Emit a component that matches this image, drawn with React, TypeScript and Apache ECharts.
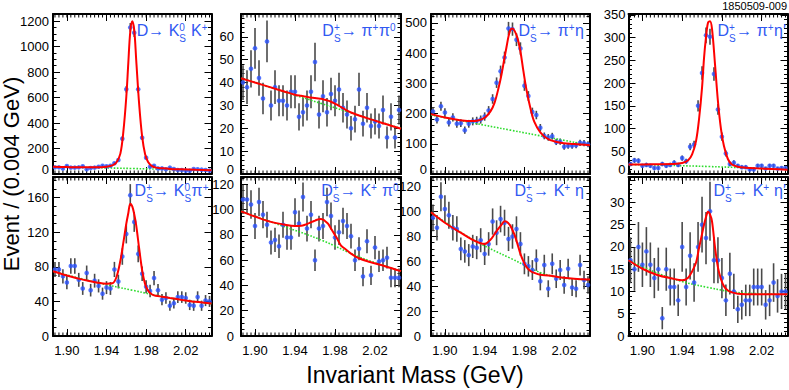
import React, { useEffect, useRef } from "react";
import * as echarts from "echarts";

// ---------- data ----------
const binCenters = [
  1.888, 1.892, 1.896, 1.9, 1.904, 1.908, 1.912, 1.916, 1.92, 1.924,
  1.928, 1.932, 1.936, 1.94, 1.944, 1.948, 1.952, 1.956, 1.96, 1.964,
  1.968, 1.972, 1.976, 1.98, 1.984, 1.988, 1.992, 1.996, 2.0, 2.004,
  2.008, 2.012, 2.016, 2.02, 2.024, 2.028, 2.032, 2.036, 2.04, 2.044,
];
const xMinorTicks = [
  1.888, 1.892, 1.896, 1.9, 1.904, 1.908, 1.912, 1.916, 1.92, 1.924,
  1.928, 1.932, 1.936, 1.94, 1.944, 1.948, 1.952, 1.956, 1.96, 1.964,
  1.968, 1.972, 1.976, 1.98, 1.984, 1.988, 1.992, 1.996, 2.0, 2.004,
  2.008, 2.012, 2.016, 2.02, 2.024, 2.028, 2.032, 2.036, 2.04, 2.044,
];
const xTickLabels = [1.9, 1.94, 1.98, 2.02];
const fitX = [
  1.886, 1.9, 1.915, 1.93, 1.94, 1.946, 1.95, 1.954, 1.957, 1.96, 1.962,
  1.964, 1.966, 1.968, 1.97, 1.973, 1.976, 1.979, 1.982, 1.986, 1.99, 1.996,
  2.004, 2.015, 2.03, 2.046,
];
const bkgX = [1.886, 1.926, 1.966, 2.006, 2.046];

// D -> Ks K+
const p1Counts = [52, 52, 44, 63, 50, 50, 52, 60, 37, 47, 50, 57, 65, 60, 65, 84, 110, 277, 664, 1150, 1108, 664, 285, 128, 57, 65, 44, 44, 37, 50, 39, 31, 31, 26, 26, 39, 37, 34, 31, 26];
const p1Fit = [57, 54, 52, 52, 57, 68, 90, 160, 330, 606, 868, 1116, 1198, 1130, 894, 545, 293, 155, 95, 62, 50, 45, 40, 37, 33, 29];
const p1Bkg = [57, 50, 43, 36, 29];
const p1YLabels = [0, 200, 400, 600, 800, 1000, 1200];

// Ds -> pi+ pi0
const p2Counts = [40, 38, 46, 55, 42, 33, 58, 30, 38, 32, 32, 30, 36, 36, 25, 27, 30, 36, 49, 26, 34, 27, 35, 32, 37, 29, 26, 20, 24, 37, 22, 29, 21, 23, 21, 28, 16, 25, 16, 28];
const p2Fit = [41.9, 40.0, 38.0, 36.0, 34.7, 34.2, 33.9, 33.6, 33.4, 33.2, 33.1, 33.0, 32.9, 32.7, 32.5, 32.1, 31.6, 31.0, 30.3, 29.3, 28.3, 26.9, 25.6, 24.0, 22.0, 19.8];
const p2Bkg = [41.9, 36.4, 30.9, 25.4, 19.9];
const p2YLabels = [0, 10, 20, 30, 40, 50, 60];

// Ds -> pi+ eta
const p3Counts = [207, 180, 224, 203, 170, 187, 166, 168, 145, 166, 174, 176, 180, 190, 210, 248, 302, 340, 385, 481, 479, 444, 415, 292, 258, 205, 195, 153, 126, 121, 125, 106, 107, 90, 93, 93, 95, 103, 102, 98];
const p3Fit = [198, 187, 178, 175, 186, 208, 236, 285, 330, 385, 420, 455, 477, 481, 474, 450, 405, 340, 280, 218, 172, 138, 115, 104, 99, 95];
const p3Bkg = [195, 170, 145, 120, 95];
const p3YLabels = [0, 100, 200, 300, 400, 500];

// Ds -> pi+ eta'
const p4Counts = [22, 30, 29, 18, 20, 18, 13, 13, 22, 18, 20, 25, 20, 35, 28, 60, 65, 150, 222, 305, 302, 220, 142, 82, 45, 22, 25, 18, 15, 15, 10, 10, 18, 18, 12, 18, 18, 12, 13, 13];
const p4Fit = [21, 21, 21.5, 22, 24, 30, 43, 73, 121, 190, 255, 301, 333, 336, 320, 243, 160, 100, 62, 33, 21, 16, 14, 12.5, 11, 9.6];
const p4Bkg = [21, 19, 16.5, 13.5, 10];
const p4YLabels = [0, 50, 100, 150, 200, 250, 300, 350];

// Ds -> Ks pi+
const p5Counts = [77, 77, 69, 62, 81, 81, 65, 55, 73, 53, 64, 58, 49, 56, 55, 77, 63, 92, 118, 163, 132, 95, 72, 57, 52, 67, 53, 42, 44, 35, 38, 45, 45, 44, 36, 35, 45, 35, 41, 40];
const p5Fit = [75, 70, 65.5, 62, 60.5, 61, 68, 87, 108, 130, 142, 153, 150, 141, 128, 101, 76, 60, 52.5, 48, 46.5, 45.5, 44, 42, 39.5, 37.5];
const p5Bkg = [75, 63, 53, 43.5, 37.5];
const p5YLabels = [0, 40, 80, 120, 160];

// Ds -> K+ pi0
const p6Counts = [108, 108, 104, 87, 106, 96, 88, 74, 76, 71, 88, 78, 78, 98, 89, 110, 85, 96, 60, 85, 87, 106, 95, 78, 82, 91, 87, 79, 60, 69, 47, 75, 48, 70, 59, 60, 62, 46, 46, 46];
const p6Fit = [98.6, 94.5, 90.5, 88, 87, 87.2, 88, 89.3, 90.3, 91.3, 92, 92.4, 92.5, 92, 91, 88.9, 85, 81.2, 77.3, 71.5, 69, 65.2, 61.5, 58.6, 55.2, 51.3];
const p6Bkg = [98.6, 87.5, 76, 62, 51.3];
const p6YLabels = [0, 20, 40, 60, 80, 100, 120];

// Ds -> K+ eta
const p7Counts = [95, 87, 112, 102, 97, 87, 86, 70, 68, 65, 72, 71, 77, 66, 74, 92, 83, 94, 91, 78, 80, 86, 74, 58, 56, 53, 61, 44, 57, 38, 58, 46, 53, 41, 54, 39, 38, 57, 45, 41];
const p7Fit = [99.4, 91, 83.5, 76.5, 74, 77.5, 82, 86.5, 89.5, 92.3, 92, 90.5, 88.5, 85, 81.5, 74, 66, 60, 55.5, 52.3, 50.7, 49.2, 48.7, 47.2, 46, 45.4];
const p7Bkg = [99.4, 78.5, 62.5, 48.5, 45.3];
const p7YLabels = [0, 20, 40, 60, 80, 100, 120];

// Ds -> K+ eta'
const p8Counts = [17, 15, 20, 16, 19, 16, 13, 15, 4, 15, 11, 11, 8, 20, 11, 18, 12, 20, 25, 22, 28, 17, 17, 13, 8, 14, 10, 6, 7, 8, 8, 11, 11, 11, 7, 8, 12, 9, 10, 10];
const p8Fit = [17, 15.1, 13.7, 12.9, 12.5, 13.1, 14.5, 16.5, 19.8, 22.9, 25, 26.7, 27.9, 27.3, 25.8, 20, 15.4, 12.8, 11.2, 10.2, 9.8, 9.5, 9.4, 9.4, 9.4, 9.4];
const p8Bkg = [17, 13.2, 10.9, 9.6, 9.4];
const p8YLabels = [0, 5, 10, 15, 20, 25, 30];

// ---------- styling / layout ----------
const FONT = '"Liberation Sans", Arial, Helvetica, sans-serif';
const X_MIN = 1.886;
const X_MAX = 2.046;
const POINT_BLUE = "#2b52ff";
const LABEL_BLUE = "#3159f2";
const colLeft = [53, 241, 431, 628.5];
const colWidth = [158.5, 160, 159, 159];
const rowTop = [14, 177];
const rowHeight = [160, 159];
const rowBaseline = [36.5, 196.5];

type Tok = { t?: string; sup?: string; sub?: string; gap?: boolean };
const DS: Tok = { sup: "+", sub: "S" };

const panels = [
  { counts: p1Counts, fit: p1Fit, bkg: p1Bkg, yLabels: p1YLabels, yMax: 1255, yInt: 200, yMinor: 4, err: 1.0, lm: 4, col: 0, row: 0, right: 208,
    label: [{ t: "D→ K" }, { sup: "0", sub: "S" }, { gap: true }, { t: "K" }, { sup: "+" }] as Tok[] },
  { counts: p2Counts, fit: p2Fit, bkg: p2Bkg, yLabels: p2YLabels, yMax: 70, yInt: 10, yMinor: 5, err: 1.2, lm: 7, col: 1, row: 0, right: 396,
    label: [{ t: "D" }, DS, { t: "→ π" }, { sup: "+" }, { t: "π" }, { sup: "0" }] as Tok[] },
  { counts: p3Counts, fit: p3Fit, bkg: p3Bkg, yLabels: p3YLabels, yMax: 529, yInt: 100, yMinor: 5, err: 1.0, lm: 4, col: 2, row: 0, right: 584,
    label: [{ t: "D" }, DS, { t: "→ π" }, { sup: "+" }, { t: "η" }] as Tok[] },
  { counts: p4Counts, fit: p4Fit, bkg: p4Bkg, yLabels: p4YLabels, yMax: 352, yInt: 50, yMinor: 5, err: 1.0, lm: 3, col: 3, row: 0, right: 786,
    label: [{ t: "D" }, DS, { t: "→ π" }, { sup: "+" }, { t: "η′" }] as Tok[] },
  { counts: p5Counts, fit: p5Fit, bkg: p5Bkg, yLabels: p5YLabels, yMax: 184, yInt: 40, yMinor: 4, err: 1.0, lm: 4, col: 0, row: 1, right: 209,
    label: [{ t: "D" }, DS, { t: "→ K" }, { sup: "0", sub: "S" }, { t: "π" }, { sup: "+" }] as Tok[] },
  { counts: p6Counts, fit: p6Fit, bkg: p6Bkg, yLabels: p6YLabels, yMax: 125.8, yInt: 20, yMinor: 4, err: 1.1, lm: 7, col: 1, row: 1, right: 399,
    label: [{ t: "D" }, DS, { t: "→ K" }, { sup: "+" }, { gap: true }, { t: "π" }, { sup: "0" }] as Tok[] },
  { counts: p7Counts, fit: p7Fit, bkg: p7Bkg, yLabels: p7YLabels, yMax: 127.8, yInt: 20, yMinor: 4, err: 1.1, lm: 10, col: 2, row: 1, right: 584,
    label: [{ t: "D" }, DS, { t: "→ K" }, { sup: "+" }, { gap: true }, { t: "η" }] as Tok[] },
  { counts: p8Counts, fit: p8Fit, bkg: p8Bkg, yLabels: p8YLabels, yMax: 35.7, yInt: 5, yMinor: 5, err: 1.25, lm: 4, col: 3, row: 1, right: 786,
    label: [{ t: "D" }, DS, { t: "→ K" }, { sup: "+" }, { gap: true }, { t: "η′" }] as Tok[] },
];

function textEl(text: string, x: number, baseline: number, fs: number, fill: string) {
  return {
    type: "text",
    x,
    y: baseline - 0.35 * fs,
    silent: true,
    z: 100,
    style: { text, font: `${fs}px ${FONT}`, fill, align: "left", verticalAlign: "middle" },
  };
}

function buildLabel(toks: Tok[], right: number, baseline: number) {
  const canvas = document.createElement("canvas");
  const ctx = canvas.getContext("2d") as CanvasRenderingContext2D;
  const big = 16;
  const small = 10;
  const w = (s: string, fs: number) => {
    ctx.font = `${fs}px ${FONT}`;
    return ctx.measureText(s).width;
  };
  const widths = toks.map((tk) => {
    if (tk.gap) return w(" ", big);
    if (tk.t !== undefined) return w(tk.t, big);
    return Math.max(tk.sup ? w(tk.sup, small) : 0, tk.sub ? w(tk.sub, small) : 0) + 0.5;
  });
  const total = widths.reduce((a, b) => a + b, 0);
  let x = right - total;
  const els: any[] = [];
  toks.forEach((tk, i) => {
    if (tk.t !== undefined) els.push(textEl(tk.t, x, baseline, big, LABEL_BLUE));
    else if (!tk.gap) {
      if (tk.sup) els.push(textEl(tk.sup, x, baseline - 5.5, small, LABEL_BLUE));
      if (tk.sub) els.push(textEl(tk.sub, x, baseline + 5, small, LABEL_BLUE));
    }
    x += widths[i];
  });
  return els;
}

function buildOption() {
  const grid: any[] = [];
  const xAxis: any[] = [];
  const yAxis: any[] = [];
  const series: any[] = [];
  const graphic: any[] = [];
  const axisLine = { show: true, onZero: false, lineStyle: { color: "#000", width: 2 } };
  const tickLine = { color: "#000", width: 1 };

  panels.forEach((p, g) => {
    const isBottom = p.row === 1;
    grid.push({ left: colLeft[p.col], top: rowTop[p.row], width: colWidth[p.col], height: rowHeight[p.row], show: false });
    const xCommon = { gridIndex: g, type: "value", min: X_MIN, max: X_MAX, splitLine: { show: false }, axisLine };
    xAxis.push({
      ...xCommon,
      position: "bottom",
      axisTick: { show: true, inside: true, length: 7, customValues: xTickLabels, lineStyle: tickLine },
      axisLabel: {
        show: isBottom,
        customValues: xTickLabels,
        formatter: (v: number) => v.toFixed(2),
        margin: 8,
        fontSize: 13,
        fontFamily: FONT,
        color: "#000",
      },
    });
    xAxis.push({
      ...xCommon,
      position: "top",
      axisTick: { show: true, inside: true, length: 7, customValues: xTickLabels, lineStyle: tickLine },
      axisLabel: { show: false },
    });
    const yCommon = {
      gridIndex: g,
      type: "value",
      min: 0,
      max: p.yMax,
      interval: p.yInt,
      splitLine: { show: false },
      axisLine,
      axisTick: { show: true, inside: true, length: 7, lineStyle: tickLine },
      minorTick: { show: true, splitNumber: p.yMinor, length: 3.5, lineStyle: tickLine },
    };
    const isTopRow = p.row === 0;
    yAxis.push({
      ...yCommon,
      position: "left",
      axisLabel: {
        customValues: p.yLabels,
        // in the top row the "0" sits slightly above its tick, as in the reference
        formatter: (v: number) => (isTopRow && v === 0 ? "{lo|0}" : String(Math.round(v))),
        rich: { lo: { padding: [0, 0, 10, 0], fontSize: 13, fontFamily: FONT, color: "#000" } },
        margin: p.lm,
        fontSize: 13,
        fontFamily: FONT,
        color: "#000",
      },
    });
    yAxis.push({ ...yCommon, position: "right", axisLabel: { show: false } });

    const xi = g * 2;
    const yi = g * 2;
    // minor x ticks (bottom and top)
    series.push({
      type: "custom",
      xAxisIndex: xi,
      yAxisIndex: yi,
      silent: true,
      clip: false,
      z: 1,
      encode: { x: 0, y: 1 },
      data: xMinorTicks.map((v) => [v, 0]),
      renderItem: (params: any, api: any) => {
        const x = api.coord([api.value(0), 0])[0];
        const cs = params.coordSys;
        const yb = cs.y + cs.height;
        return {
          type: "group",
          children: [
            { type: "line", shape: { x1: x, y1: yb, x2: x, y2: yb - 3.5 }, style: { stroke: "#000", lineWidth: 1 } },
            { type: "line", shape: { x1: x, y1: cs.y, x2: x, y2: cs.y + 3.5 }, style: { stroke: "#000", lineWidth: 1 } },
          ],
        };
      },
    });
    // error bars (Poisson-like, scaled per panel)
    series.push({
      type: "custom",
      xAxisIndex: xi,
      yAxisIndex: yi,
      silent: true,
      clip: true,
      z: 2,
      encode: { x: 0, y: [1, 2] },
      data: p.counts.map((c, i) => {
        const e = Math.sqrt(c) * p.err;
        return [binCenters[i], c - e, c + e];
      }),
      renderItem: (params: any, api: any) => {
        const a = api.coord([api.value(0), api.value(1)]);
        const b = api.coord([api.value(0), api.value(2)]);
        return { type: "line", shape: { x1: a[0], y1: a[1], x2: b[0], y2: b[1] }, style: { stroke: "#4a4a4a", lineWidth: 1.6 } };
      },
    });
    // background (green dotted)
    series.push({
      type: "line",
      xAxisIndex: xi,
      yAxisIndex: yi,
      silent: true,
      z: 3,
      smooth: 0.4,
      showSymbol: false,
      data: bkgX.map((x, i) => [x, p.bkg[i]]),
      lineStyle: { color: "#2ddc2d", width: 1.6, type: "dotted" },
    });
    // data points
    series.push({
      type: "scatter",
      xAxisIndex: xi,
      yAxisIndex: yi,
      silent: true,
      z: 4,
      symbol: "circle",
      symbolSize: 4.6,
      itemStyle: { color: POINT_BLUE },
      data: p.counts.map((c, i) => [binCenters[i], c]),
    });
    // fit (red)
    series.push({
      type: "line",
      xAxisIndex: xi,
      yAxisIndex: yi,
      silent: true,
      z: 5,
      smooth: 0.35,
      showSymbol: false,
      data: fitX.map((x, i) => [x, p.fit[i]]),
      lineStyle: { color: "#ff0000", width: 2 },
    });

    graphic.push(...buildLabel(p.label, p.right, rowBaseline[p.row]));
  });

  graphic.push({
    type: "text",
    x: 11.5,
    y: 174,
    rotation: Math.PI / 2,
    silent: true,
    style: { text: "Event / (0.004 GeV)", font: `22px ${FONT}`, fill: "#000", align: "center", verticalAlign: "middle" },
  });
  graphic.push({
    type: "text",
    x: 415,
    y: 375,
    silent: true,
    style: { text: "Invariant Mass (GeV)", font: `23px ${FONT}`, fill: "#000", align: "center", verticalAlign: "middle" },
  });
  graphic.push({
    type: "text",
    x: 787,
    y: 5.5,
    silent: true,
    style: { text: "1850509-009", font: `11px ${FONT}`, fill: "#000", align: "right", verticalAlign: "middle" },
  });

  return {
    animation: false,
    backgroundColor: "#fff",
    grid,
    xAxis,
    yAxis,
    series,
    graphic,
  };
}

export default function App() {
  const ref = useRef<HTMLDivElement>(null);
  useEffect(() => {
    if (!ref.current) return;
    const chart = echarts.init(ref.current, undefined, { renderer: "svg" });
    chart.setOption(buildOption() as any);
    return () => {
      chart.dispose();
    };
  }, []);
  return (
    <div
      ref={ref}
      style={{ position: "fixed", left: 0, top: 0, width: 789, height: 390, background: "#fff" }}
    />
  );
}
